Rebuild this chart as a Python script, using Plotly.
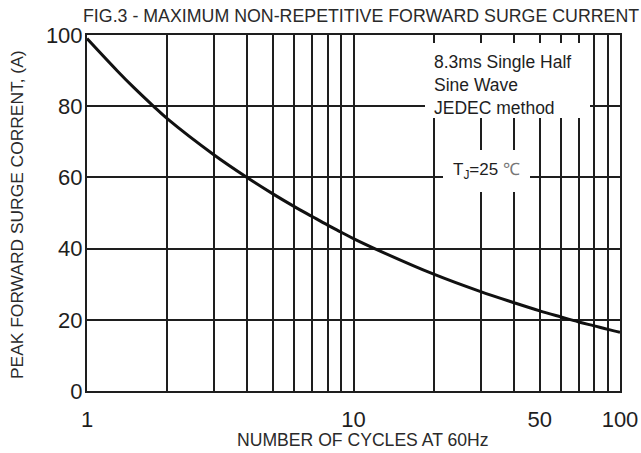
import plotly.graph_objects as go

cycles = [1, 1.3, 1.5, 1.77, 2, 3, 4, 5, 6, 7, 8, 9, 10, 12, 20, 30, 40, 50, 60, 70, 80, 90, 100]
current = [99, 89.9, 85.2, 80.1, 76.5, 66.3, 59.9, 55.3, 51.8, 49.0, 46.6, 44.6, 42.8, 40.0,
           32.8, 27.9, 24.8, 22.5, 20.8, 19.4, 18.3, 17.3, 16.5]

x_tick_vals = [1, 10, 50, 100]
x_tick_text = ["1", "10", "50", "100"]
x_minor_grid = [2, 3, 4, 5, 6, 7, 8, 9, 20, 30, 40, 60, 70, 80, 90]
y_tick_vals = [0, 20, 40, 60, 80, 100]

title_text = "FIG.3 - MAXIMUM NON-REPETITIVE FORWARD SURGE CURRENT"
x_title = "NUMBER OF CYCLES AT 60Hz"
y_title = "PEAK FORWARD SURGE CORRENT, (A)"
note_text = "8.3ms Single Half<br>Sine Wave<br>JEDEC method"
temp_text = "T<sub>J</sub>=25 <span style='color:#777'>℃</span>"

FONT = "Liberation Sans, Arial, sans-serif"
INK = "#1e1e1e"

# plot-area geometry in pixels (for placing the text boxes)
L, R, T, B = 87, 620, 35, 391
def px(x):
    return (x - L) / (R - L)
def py(y):
    return (B - y) / (B - T)

fig = go.Figure()
fig.add_trace(go.Scatter(
    x=cycles, y=current, mode="lines",
    line=dict(color="#111111", width=3, shape="spline", smoothing=1.0),
    showlegend=False, hoverinfo="skip",
))

fig.update_layout(
    width=641, height=453,
    margin=dict(l=L, r=641 - R, t=T, b=453 - B, autoexpand=False),
    paper_bgcolor="white", plot_bgcolor="white",
    font=dict(family=FONT, color=INK),
    title=dict(text=title_text, x=83 / 641, xanchor="left", xref="container",
               y=1 - 16 / 453, yanchor="middle", yref="container",
               font=dict(size=17.8, color="#2a2a2a", family=FONT)),
)

fig.update_xaxes(
    type="log", range=[0, 2], automargin=False,
    tickmode="array", tickvals=x_tick_vals, ticktext=x_tick_text, tickangle=0,
    showgrid=True, gridcolor=INK, gridwidth=1.6,
    minor=dict(tickmode="array", tickvals=x_minor_grid, showgrid=True,
               gridcolor=INK, gridwidth=1.6, ticks=""),
    showline=True, linecolor=INK, linewidth=2, mirror=True,
    ticks="", ticklabelstandoff=8,
    tickfont=dict(size=22, color=INK, family=FONT),
    zeroline=False,
)
fig.update_yaxes(
    range=[0, 100], tickmode="array", tickvals=y_tick_vals, automargin=False,
    showgrid=True, gridcolor=INK, gridwidth=1.6,
    showline=True, linecolor=INK, linewidth=2, mirror=True,
    ticks="", ticklabelstandoff=-2,
    tickfont=dict(size=22, color=INK, family=FONT),
    zeroline=False,
)

# white masks that interrupt the grid behind the notes
fig.add_shape(type="rect", xref="paper", yref="paper", layer="above",
              x0=px(425), x1=px(590), y0=py(118), y1=py(43),
              fillcolor="white", line=dict(width=0))
fig.add_shape(type="rect", xref="paper", yref="paper", layer="above",
              x0=px(443), x1=px(530), y0=py(192), y1=py(150),
              fillcolor="white", line=dict(width=0))

fig.add_annotation(
    text=x_title, xref="paper", yref="paper",
    x=px(363), y=py(440), xanchor="center", yanchor="middle",
    showarrow=False, font=dict(size=17.6, color="#2a2a2a", family=FONT),
)
fig.add_annotation(
    text=y_title, xref="paper", yref="paper", textangle=-90,
    x=px(17), y=py(215), xanchor="center", yanchor="middle",
    showarrow=False, font=dict(size=17.4, color="#2a2a2a", family=FONT),
)
fig.add_annotation(
    text=note_text, xref="paper", yref="paper",
    x=px(433), y=py(85), xanchor="left", yanchor="middle",
    showarrow=False, align="left", borderpad=0,
    font=dict(size=17.5, color=INK, family=FONT),
)
fig.add_annotation(
    text=temp_text, xref="paper", yref="paper",
    x=px(486), y=py(171), xanchor="center", yanchor="middle",
    showarrow=False, align="center", borderpad=0,
    font=dict(size=17, color=INK, family=FONT),
)

fig.write_html("out.html")
